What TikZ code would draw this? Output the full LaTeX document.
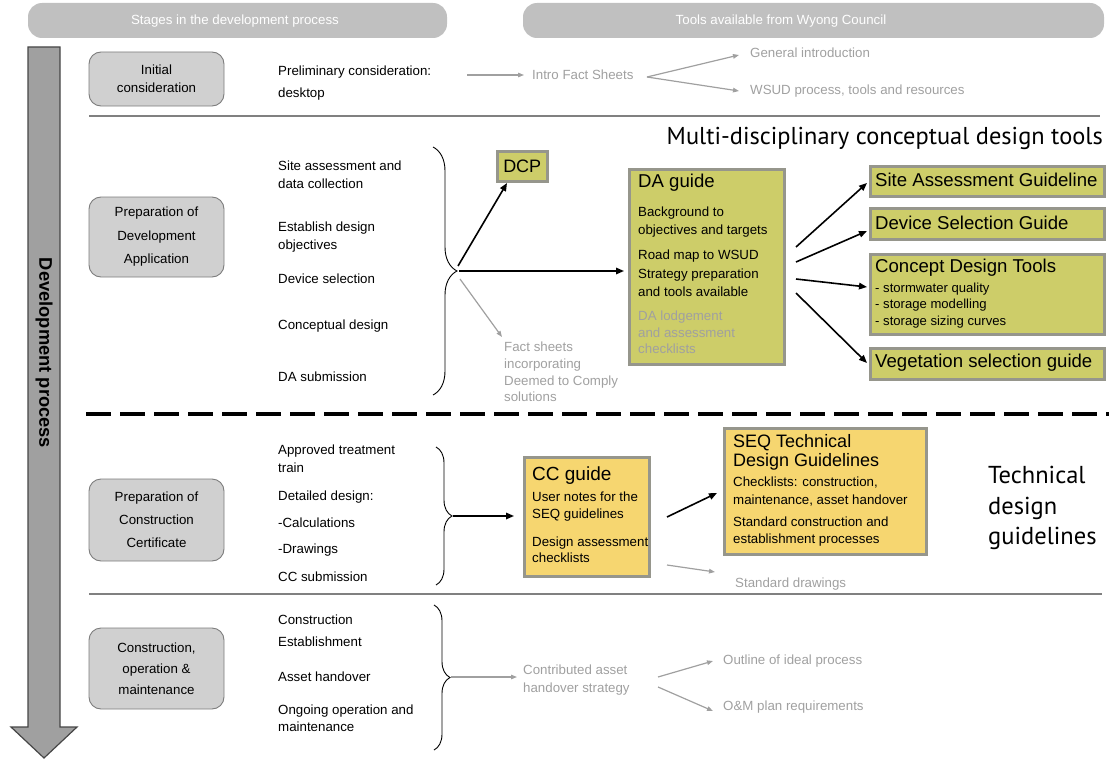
\documentclass[tikz,border=0pt]{standalone}
\usepackage{fontspec}
\setmainfont{Liberation Sans}
\newfontfamily\headfont{PT Sans}
\usetikzlibrary{arrows.meta,decorations.pathreplacing}

\definecolor{hdrfill}{RGB}{192,192,192}
\definecolor{stagefill}{RGB}{208,208,208}
\definecolor{stageline}{RGB}{125,125,125}
\definecolor{shaftfill}{RGB}{160,160,160}
\definecolor{shaftline}{RGB}{70,70,70}
\definecolor{softgray}{RGB}{160,160,160}
\definecolor{ruleline}{RGB}{128,128,128}
\definecolor{olivefill}{RGB}{205,205,105}
\definecolor{goldfill}{RGB}{246,214,112}
\definecolor{toolline}{RGB}{150,150,140}

\begin{document}
\begin{tikzpicture}[x=1pt,y=-1pt,
  body/.style={font=\fontsize{13.3}{#1}\selectfont, inner sep=0pt, align=left, anchor=west},
  body/.default=18,
  soft/.style={body=#1, text=softgray},
  soft/.default=18,
  hdrbar/.style={fill=hdrfill, rounded corners=14pt, inner sep=0pt, minimum height=35pt},
  hdrtext/.style={text=white, inner sep=0pt, font=\fontsize{13.3}{16}\selectfont},
  stagebox/.style={draw=stageline, fill=stagefill, line width=0.9pt, rounded corners=12pt,
    minimum width=135pt, align=center, inner sep=0pt, font=\fontsize{13.3}{#1}\selectfont},
  tbox/.style={draw=toolline, line width=2.5pt, inner sep=0pt, anchor=north west},
  olivebox/.style={tbox, fill=olivefill},
  goldbox/.style={tbox, fill=goldfill},
  title/.style={font=\fontsize{18.6}{#1}\selectfont, inner sep=0pt, align=left, anchor=west},
  title/.default=20,
  blackarrow/.style={-{Triangle[length=8pt,width=6.5pt]}, line width=1.6pt},
  grayarrow/.style={-{Triangle[length=6pt,width=4.5pt]}, line width=1.2pt, draw=softgray},
  curly/.style={decorate, decoration={brace, amplitude=#1}, line width=0.9pt},
  heading/.style={font=\headfont\fontsize{#1}{30.5}\selectfont, inner sep=0pt, align=left}
]
\path[use as bounding box] (0,0) rectangle (1109,760);

% column headers
\node[hdrbar, minimum width=419pt] (hdrL) at (237.5,20.5) {};
\node[hdrtext] (hdrLt) at (235,21) {Stages in the development process};
\node[hdrbar, minimum width=581pt] (hdrR) at (813.5,20.5) {};
\node[hdrtext] (hdrRt) at (781,21) {Tools available from Wyong Council};

% development process arrow
\draw[fill=shaftfill, draw=shaftline, line width=1.2pt]
  (28,47) -- (60,47) -- (60,727) -- (77,727) -- (44,758) -- (11,727) -- (28,727) -- cycle;
\node[rotate=-90, inner sep=0pt, font=\bfseries\fontsize{18.3}{20}\selectfont] (devlabel) at (44,353) {Development process};

% stage boxes
\node[stagebox=18, minimum height=54pt] (st1) at (156.5,79) {Initial\\consideration};
\node[stagebox=23.5, minimum height=80pt] (st2) at (156.5,237) {Preparation of\\Development\\Application};
\node[stagebox=23, minimum height=82pt] (st3) at (156.5,520) {Preparation of\\Construction\\Certificate};
\node[stagebox=21, minimum height=81pt] (st4) at (156.5,668.5) {Construction,\\operation \&\\maintenance};

% section rules
\draw[ruleline, line width=2pt] (89,116) -- (1100,116);
\draw[line width=4pt, dash pattern=on 25pt off 9pt] (86,414) -- (1109,414);
\draw[ruleline, line width=2pt] (89,594) -- (1102,594);

% ---------- initial consideration ----------
\node[body=22] (pre) at (278,83) {Preliminary consideration:\\desktop};
\coordinate (preout) at (467,75);
\node[soft] (intro) at (532,75) {Intro Fact Sheets};
\draw[grayarrow] (preout) -- ([xshift=-8pt]intro.west);
\coordinate (introout) at (647,77);
\node[soft] (genintro) at (750,53) {General introduction};
\node[soft] (wsud) at (750,91) {WSUD process, tools and resources};
\draw[grayarrow] (introout) -- ([xshift=-11pt,yshift=-2pt]genintro.west);
\draw[grayarrow] (introout) -- ([xshift=-11pt]wsud.west);

% ---------- development application ----------
\node[body] (a1) at (278,175) {Site assessment and\\data collection};
\node[body] (a2) at (278,237) {Establish design\\objectives};
\node[body] (a3) at (278,279) {Device selection};
\node[body] (a4) at (278,326) {Conceptual design};
\node[body] (a5) at (278,377) {DA submission};
\draw[curly=24pt] (433,147) -- (433,395);
\coordinate (datip) at (459,271);
\coordinate (dcpout) at (458,266);
\coordinate (factout) at (460,279);

\node[olivebox, minimum width=50pt, minimum height=30pt, font=\fontsize{18}{20}\selectfont] (dcp) at (496,150) {DCP};
\node[olivebox, minimum width=155pt, minimum height=195pt] (da) at (628,168) {};
\node[title] (datitle) at (638,183) {DA guide};
\node[body] (dab1) at (638,222) {Background to\\objectives and targets};
\node[body=18.5] (dab2) at (638,273.5) {Road map to WSUD\\Strategy preparation\\and tools available};
\node[soft=16.5] (dab3) at (638,332.5) {DA lodgement\\and assessment\\checklists};
\node[soft=16.7] (fact) at (504,372) {Fact sheets\\incorporating\\Deemed to Comply\\solutions};

\coordinate (dcpin) at (507,183);
\coordinate (factin) at (502,337);
\draw[blackarrow] (dcpout) -- (dcpin);
\draw[blackarrow] (datip) -- ([xshift=-4pt]da.west |- datip);
\draw[grayarrow] (factout) -- (factin);

\node[heading=24.4, anchor=east] (mdtitle) at (1103,138) {Multi-disciplinary conceptual design tools};

\node[olivebox, minimum width=234pt, minimum height=30pt] (sag) at (869,165) {};
\node[title] at (875,180) (sagt) {Site Assessment Guideline};
\node[olivebox, minimum width=234pt, minimum height=31pt] (dsg) at (869,207) {};
\node[title] at (875,223) (dsgt) {Device Selection Guide};
\node[olivebox, minimum width=234pt, minimum height=80pt] (cdt) at (869,253) {};
\node[title] at (875,268) (cdtt) {Concept Design Tools};
\node[body, font=\fontsize{13.1}{16.5}\selectfont] (cdti) at (875,305.5) {- stormwater quality\\- storage modelling\\- storage sizing curves};
\node[olivebox, minimum width=234pt, minimum height=31pt] (vsg) at (869,347) {};
\node[title] at (875,363) (vsgt) {Vegetation selection guide};

\coordinate (da1) at (796,247);
\coordinate (da2) at (796,262);
\coordinate (da3) at (796,279);
\coordinate (da4) at (796,293);
\draw[blackarrow] (da1) -- ([xshift=-2pt]sag.west |- 0,183);
\draw[blackarrow] (da2) -- ([xshift=-2pt]dsg.west |- 0,231);
\draw[blackarrow] (da3) -- ([xshift=-2pt]cdt.west |- 0,287);
\draw[blackarrow] (da4) -- ([xshift=-2pt]vsg.west |- 0,363);

% ---------- construction certificate ----------
\node[body] (c1) at (278,459) {Approved treatment\\train};
\node[body] (c2) at (278,497) {Detailed design:};
\node[body] (c3) at (278,523) {-Calculations};
\node[body] (c4) at (278,550) {-Drawings};
\node[body] (c5) at (278,577) {CC submission};
\draw[curly=16pt] (436,447) -- (436,585);
\coordinate (cctip) at (453,516);

\node[goldbox, minimum width=125pt, minimum height=119pt] (cc) at (523,456) {};
\node[title, font=\fontsize{19}{20}\selectfont] (cctitle) at (532,476) {CC guide};
\node[body=17] (ccb1) at (532,506.5) {User notes for the\\SEQ guidelines};
\node[body=16] (ccb2) at (532,550) {Design assessment\\checklists};
\draw[blackarrow] (cctip) -- ([xshift=-9pt]cc.west |- cctip);

\node[goldbox, minimum width=202pt, minimum height=126pt] (seq) at (723,427) {};
\node[title, font=\fontsize{18}{19}\selectfont] (seqtitle) at (733,452.5) {SEQ Technical\\Design Guidelines};
\node[body=18] (seqb1) at (733,492) {Checklists: construction,\\maintenance, asset handover};
\node[body=17.5] (seqb2) at (733,531.5) {Standard construction and\\establishment processes};
\node[soft] (stddraw) at (735,584) {Standard drawings};
\coordinate (ccout1) at (667,517);
\coordinate (ccout2) at (667,565);
\draw[blackarrow] (ccout1) -- (717,493);
\draw[grayarrow] (ccout2) -- (715,572);

\node[heading=24.5, anchor=west] (tdtitle) at (988,508) {Technical\\design\\guidelines};

% ---------- construction, operation & maintenance ----------
\node[body] (d1) at (278,620) {Construction};
\node[body] (d2) at (278,642) {Establishment};
\node[body] (d3) at (278,677) {Asset handover};
\node[body=17] (d4) at (278,718.5) {Ongoing operation and\\maintenance};
\draw[curly=16pt] (434,605) -- (434,750);
\coordinate (omtip) at (451,677);

\node[soft] (contrib) at (523,680) {Contributed asset\\handover strategy};
\draw[grayarrow] (omtip) -- ([xshift=-6pt]contrib.west |- omtip);
\coordinate (contribup) at (658,677);
\coordinate (contribdown) at (658,687);
\node[soft] (outline) at (723,661) {Outline of ideal process};
\node[soft] (omplan) at (723,707) {O\&M plan requirements};
\draw[grayarrow] (contribup) -- ([xshift=-10pt]outline.west);
\draw[grayarrow] (contribdown) -- ([xshift=-10pt,yshift=-4pt]omplan.west);
\end{tikzpicture}
\end{document}
